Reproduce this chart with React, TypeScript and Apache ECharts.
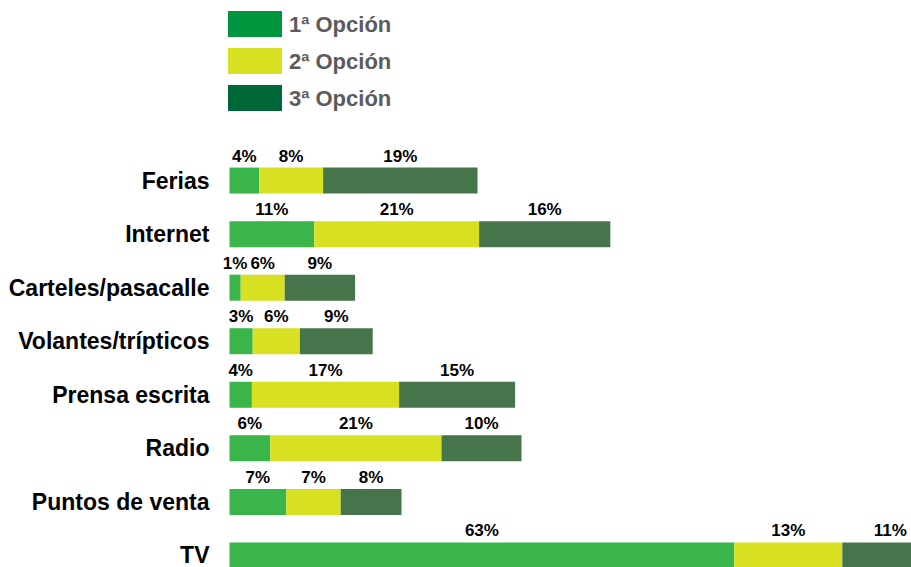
import React, { useEffect, useRef } from "react";
import * as echarts from "echarts";

const categories = [
  "Ferias",
  "Internet",
  "Carteles/pasacalle",
  "Volantes/trípticos",
  "Prensa escrita",
  "Radio",
  "Puntos de venta",
  "TV",
];

// bar lengths as drawn in the picture (%)
const opcion1 = [3.7, 10.6, 1.4, 2.9, 2.8, 5.1, 7.1, 63.1];
const opcion2 = [8.0, 20.6, 5.5, 5.9, 18.4, 21.4, 6.8, 13.5];
const opcion3 = [19.3, 16.4, 8.8, 9.1, 14.5, 10.0, 7.6, 12.0];

// printed labels (%)
const etiquetas1 = [4, 11, 1, 3, 4, 6, 7, 63];
const etiquetas2 = [8, 21, 6, 6, 17, 21, 7, 13];
const etiquetas3 = [19, 16, 9, 9, 15, 10, 8, 11];

const seriesNames = ["1ª Opción", "2ª Opción", "3ª Opción"];
const barColors = ["#3AB54A", "#D8E022", "#47754B"];
const legendColors = ["#00963F", "#D8E022", "#006838"];

const FONT = "'Liberation Sans', Arial, Helvetica, sans-serif";

export default function App() {
  const ref = useRef<HTMLDivElement>(null);

  useEffect(() => {
    if (!ref.current) return;
    const chart = echarts.init(ref.current, null, { renderer: "svg" });
    const values = [opcion1, opcion2, opcion3];
    const labels = [etiquetas1, etiquetas2, etiquetas3];

    chart.setOption({
      animation: false,
      backgroundColor: "#ffffff",
      legend: {
        orient: "vertical",
        left: 228,
        top: 11,
        padding: 0,
        itemWidth: 54,
        itemHeight: 26,
        itemGap: 11,
        icon: "rect",
        textStyle: {
          fontFamily: FONT,
          fontSize: 22,
          fontWeight: "bold",
          color: "#5B5B5B",
          padding: [0, 0, 0, 2],
        },
        data: seriesNames.map((n, i) => ({
          name: n,
          itemStyle: { color: legendColors[i] },
        })),
      },
      grid: {
        left: 229.5,
        top: 153.8,
        width: 800,
        height: 428.4,
        containLabel: false,
      },
      xAxis: {
        type: "value",
        min: 0,
        max: 100,
        show: false,
      },
      yAxis: {
        type: "category",
        inverse: true,
        data: categories,
        axisLine: { show: false },
        axisTick: { show: false },
        splitLine: { show: false },
        axisLabel: {
          margin: 20,
          fontFamily: FONT,
          fontSize: 23,
          fontWeight: "bold",
          color: "#000000",
        },
      },
      series: values.map((v, si) => ({
        name: seriesNames[si],
        type: "bar",
        stack: "total",
        barWidth: 26,
        clip: false,
        data: v,
        itemStyle: { color: barColors[si] },
        label: {
          show: true,
          position: "top",
          distance: 3,
          fontFamily: FONT,
          fontSize: 17,
          fontWeight: "bold",
          color: "#000000",
          formatter: (p: any) => labels[si][p.dataIndex] + "%",
        },
      })),
    });

    return () => chart.dispose();
  }, []);

  return (
    <div
      ref={ref}
      style={{ position: "fixed", left: 0, top: 0, width: 1040, height: 620 }}
    />
  );
}
